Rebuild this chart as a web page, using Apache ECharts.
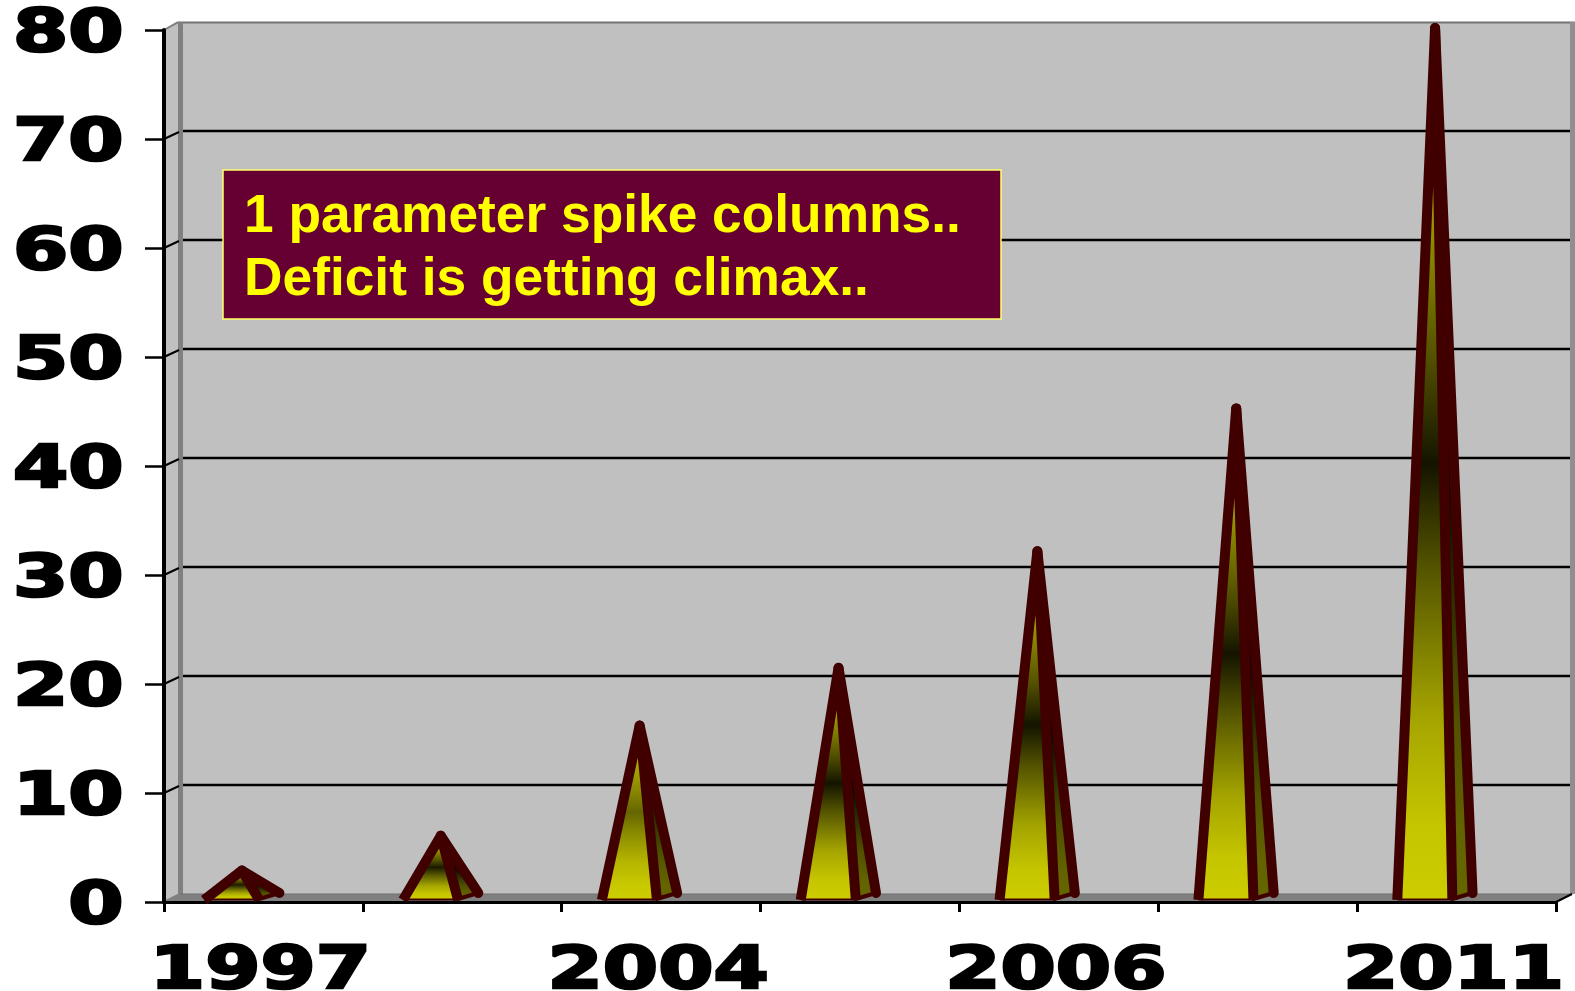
<!DOCTYPE html>
<html>
<head>
<meta charset="utf-8">
<style>html,body{margin:0;padding:0;background:#fff}#chart{width:1575px;height:991px}</style>
<script src="https://cdn.jsdelivr.net/npm/echarts@6/dist/echarts.min.js"></script>
</head>
<body>
<div id="chart"></div>
<script>
const categories = ['1997', '', '2004', '', '2006', '', '2011'];
const deficit = [2.7, 5.9, 16, 21.3, 32, 45.1, 80];
const yTicks = [0, 10, 20, 30, 40, 50, 60, 70, 80];
const noteLines = ['1 parameter spike columns..', 'Deficit is getting climax..'];

const midShades = ['#1a1a00', '#1a1a00', '#666600', '#141400', '#141400', '#141400', '#141400'];
const sideMidShades = ['#000000', '#000000', '#262600', '#000000', '#000000', '#000000', '#000000'];
const OUTLINE = '#400000';
const DX = 16, DY = 8;
const LABEL_FONT = '900 58px "DejaVu Sans"';

function vGrad(edge, mid, top) {
  const mix = function (t, end) { return echarts.color.lerp(t, [mid, end]); };
  return { type: 'linear', x: 0, y: 0, x2: 0, y2: 1, colorStops: [
    { offset: 0, color: top },
    { offset: 0.08, color: mix(0.97, top) },
    { offset: 0.21, color: mix(0.78, top) },
    { offset: 0.38, color: mix(0.35, top) },
    { offset: 0.5, color: mid },
    { offset: 0.62, color: mix(0.35, edge) },
    { offset: 0.79, color: mix(0.78, edge) },
    { offset: 0.92, color: mix(0.97, edge) },
    { offset: 1, color: edge } ] };
}

function renderChrome(params, api) {
  const c = params.coordSys;
  const L = c.x, R = c.x + c.width, T = c.y, B = c.y + c.height;
  const kids = [
    { type: 'polygon', shape: { points: [[L, T], [L + DX, T - DY], [L + DX, B - DY], [L, B]] },
      style: { fill: '#c0c0c0', stroke: '#808080', lineWidth: 1 } },
    { type: 'rect', shape: { x: L + DX, y: T - DY, width: R + DX - L - DX + 3, height: c.height },
      style: { fill: '#c0c0c0' } },
    { type: 'polygon', shape: { points: [[L, B], [L + DX, B - DY], [R + DX, B - DY], [R, B]] },
      style: { fill: '#808080' } },
    { type: 'line', shape: { x1: L + DX - 2, y1: T - DY + 0.5, x2: 1575, y2: T - DY + 0.5 }, style: { stroke: '#737373', lineWidth: 2 } },
    { type: 'rect', shape: { x: L + DX - 2, y: T - DY, width: 5, height: c.height }, style: { fill: '#808080' } },
    { type: 'rect', shape: { x: R + DX - 2, y: T - DY, width: 7, height: c.height }, style: { fill: '#8f8f8f' } },
    { type: 'line', shape: { x1: L + DX, y1: B - DY, x2: R + DX, y2: B - DY }, style: { stroke: '#6e6e6e', lineWidth: 1 } },
    { type: 'line', shape: { x1: L, y1: T, x2: L + DX - 2, y2: T - DY }, style: { stroke: '#808080', lineWidth: 2 } },
    { type: 'line', shape: { x1: L, y1: B, x2: L + DX, y2: B - DY }, style: { stroke: '#808080', lineWidth: 2 } },
    { type: 'line', shape: { x1: R, y1: B, x2: R + DX, y2: B - DY }, style: { stroke: '#000', lineWidth: 2 } }
  ];
  yTicks.forEach(function (v) {
    if (v === 0 || v === 80) return;
    const y = api.coord([0, v])[1];
    kids.push({ type: 'line', shape: { x1: L + DX + 3, y1: y - DY, x2: R + DX - 2, y2: y - DY },
      style: { stroke: '#000', lineWidth: 2.5 } });
    kids.push({ type: 'line', shape: { x1: L, y1: y, x2: L + DX - 1, y2: y - DY + 1 },
      style: { stroke: '#000', lineWidth: 2 } });
  });
  return { type: 'group', children: kids };
}

function renderSpike(params, api) {
  const i = api.value(0), v = api.value(1);
  const p = api.coord([i, v]), base = api.coord([i, 0]);
  const cx = base[0], y0 = base[1];
  const fl = [cx - 59, y0 - 3], fr = [cx - 4.5, y0 - 3], br = [cx + 16, y0 - 9];
  const apex = [cx - 21.5, p[1] - 2];
  const flEnd = [fl[0] - 0.3, y0 - 2], frEnd = [fr[0] + 0.3, y0 - 2];
  const i2 = params.dataIndex;
  return { type: 'group', children: [
    { type: 'polygon', shape: { points: [apex, fr, br] },
      style: { fill: vGrad('#666600', sideMidShades[i2], '#666600') } },
    { type: 'polyline', shape: { points: [apex, br] },
      style: { fill: null, stroke: OUTLINE, lineWidth: 10, lineCap: 'round', lineJoin: 'round' } },
    { type: 'polyline', shape: { points: [fr, br] },
      style: { fill: null, stroke: OUTLINE, lineWidth: 4, lineCap: 'round' } },
    { type: 'polygon', shape: { points: [apex, fl, fr] },
      style: { fill: vGrad('#cccc00', midShades[i2], '#c4c000') } },
    { type: 'line', shape: { x1: fl[0], y1: y0 - 2.5, x2: fr[0], y2: y0 - 2.5 },
      style: { stroke: OUTLINE, lineWidth: 2 } },
    { type: 'polyline', shape: { points: [flEnd, apex, frEnd] },
      style: { fill: null, stroke: OUTLINE, lineWidth: 10, lineJoin: 'round', lineCap: 'butt' } }
  ] };
}

function labelEl(text, x, y, align) {
  return { type: 'text', x: x, y: y, scaleX: 1.37,
    style: { x: 0, y: 0, text: text, font: LABEL_FONT, fill: '#000', stroke: '#000', lineWidth: 2.5,
      align: align, verticalAlign: 'middle' } };
}

function renderLabels(params, api) {
  const kids = [];
  yTicks.forEach(function (v) {
    kids.push(labelEl(String(v), 123.5, api.coord([0, v])[1] + 6, 'right'));
  });
  categories.forEach(function (name, i) {
    if (name) kids.push(labelEl(name, api.coord([i, 0])[0] - 3, 973, 'center'));
  });
  return { type: 'group', children: kids };
}

const chart = echarts.init(document.getElementById('chart'), null, { renderer: 'canvas' });
chart.setOption({
  animation: false,
  backgroundColor: '#ffffff',
  grid: { left: 164, right: 19, top: 30, bottom: 89, containLabel: false },
  xAxis: {
    type: 'category', data: categories, boundaryGap: true, z: 5,
    axisLine: { lineStyle: { color: '#000', width: 3 } },
    axisTick: { show: true, alignWithLabel: false, length: 10, lineStyle: { color: '#000', width: 3 } },
    axisLabel: { show: false }, splitLine: { show: false }
  },
  yAxis: {
    type: 'value', min: 0, max: 80, interval: 10, z: 5,
    axisLine: { show: true, lineStyle: { color: '#000', width: 4 } },
    axisTick: { show: true, length: 19, lineStyle: { color: '#000', width: 2.5 } },
    axisLabel: { show: false }, splitLine: { show: false }
  },
  series: [
    { type: 'custom', name: 'walls', z: 1, silent: true, clip: false, renderItem: renderChrome, data: [[0, 0]],
      encode: { x: 0, y: 1 } },
    { type: 'custom', name: 'Deficit', z: 6, silent: true, clip: false, renderItem: renderSpike,
      data: deficit.map(function (v, i) { return [i, v]; }), encode: { x: 0, y: 1 } },
    { type: 'custom', name: 'labels', z: 7, silent: true, clip: false, renderItem: renderLabels, data: [[0, 0]],
      encode: { x: 0, y: 1 } }
  ],
  graphic: [
    { type: 'rect', z: 20, shape: { x: 223, y: 170, width: 778, height: 149 },
      style: { fill: '#660033', stroke: '#ffff66', lineWidth: 1.5 } },
    { type: 'text', z: 21, x: 244, y: 217,
      style: { text: noteLines[0], font: 'bold 53.3px "Liberation Sans"', fill: '#ffff00', verticalAlign: 'middle' } },
    { type: 'text', z: 21, x: 244, y: 280,
      style: { text: noteLines[1], font: 'bold 53.3px "Liberation Sans"', fill: '#ffff00', verticalAlign: 'middle' } }
  ]
});
</script>
</body>
</html>
